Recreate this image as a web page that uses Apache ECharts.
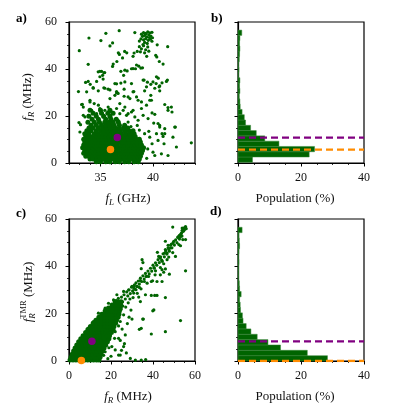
<!DOCTYPE html>
<html><head><meta charset="utf-8">
<script src="https://cdn.jsdelivr.net/npm/echarts@6/dist/echarts.min.js"></script>
<style>html,body{margin:0;padding:0;background:#fff}#c{width:395px;height:411px}</style>
</head><body><div id="c"></div>
<script>
// ---------- DATA ----------
// Panel a: dense core of (f_L [GHz], f_R [MHz]) points, listed per f_R row
const blobARows = [
  [0.5,[34.6,35.0,35.5,35.9,36.4,36.8,37.3,37.7,38.2,38.6]],
  [1.7,[34.0,34.3,34.7,35.0,35.3,35.7,36.0,36.3,36.7,37.0,37.3,37.7,38.0,38.3,38.7]],
  [2.9,[33.6,33.9,34.2,34.6,34.9,35.2,35.5,35.9,36.2,36.5,36.9,37.2,37.5,37.8,38.1,38.5,38.8]],
  [4.1,[33.4,33.8,34.1,34.4,34.7,35.0,35.4,35.7,36.0,36.3,36.7,37.0,37.3,37.6,38.0,38.3,38.6,38.9]],
  [5.3,[33.5,33.8,34.1,34.5,34.8,35.1,35.4,35.8,36.1,36.4,36.7,37.1,37.4,37.7,38.0,38.4,38.7,39.0]],
  [6.5,[33.3,33.6,33.9,34.3,34.6,34.9,35.2,35.6,35.9,36.2,36.5,36.9,37.2,37.5,37.8,38.2,38.5,38.8,39.1]],
  [7.7,[33.4,33.7,34.0,34.4,34.7,35.0,35.3,35.7,36.0,36.3,36.6,37.0,37.3,37.6,37.9,38.3,38.6,38.9]],
  [8.9,[33.5,33.8,34.1,34.5,34.8,35.1,35.4,35.8,36.1,36.4,36.8,37.1,37.4,37.7,38.1,38.4,38.8]],
  [10.1,[33.4,33.8,34.2,34.5,34.9,35.2,35.6,35.9,36.3,36.6,37.0,37.3,37.7,38.0,38.4,38.7]],
  [11.3,[33.6,34.0,34.3,34.7,35.0,35.4,35.8,36.1,36.5,36.8,37.2,37.6,37.9,38.3]],
  [12.5,[33.5,33.9,34.4,34.8,35.2,35.5,35.9,36.3,36.7,37.0,37.4,37.8,38.2]],
  [13.7,[33.7,34.1,34.6,35.0,35.3,35.7,36.1,36.5,36.9,37.3,37.7,38.1]],
  [14.9,[33.9,34.3,34.8,35.2,35.6,36.0,36.4,36.8,37.2,37.6]],
  [16.1,[34.1,34.6,35.1,35.5,35.9,36.3,36.8,37.3]],
  [17.3,[33.8,34.4,34.9,35.4,35.8,36.2,36.7]],
  [18.6,[34.2,34.8,35.5,36.0,36.5]],
  [19.9,[33.9,34.6,35.3,35.9]],
  [21.2,[34.3,35.1,35.7,36.2]],
  [22.5,[34.0,35.0,35.9]]
];
// Panel a: sparse points (f_L, f_R)
const sparseA = [
  [35.51,55.2],[36.78,56.3],[33.9,53.2],[35.04,52.1],[36.15,51.1],[35.9,49.8],[38.27,55.5],
  [38.9,54.8],[39.1,55.5],[39.3,55.2],[39.5,55.8],[39.7,55.4],[39.9,55.6],[39.0,53.9],[39.2,54.3],
  [39.4,53.6],[39.6,54.5],[39.8,54.0],[39.95,53.3],[38.85,52.8],[39.1,52.4],[39.3,52.9],[39.55,52.2],
  [39.75,52.7],[39.9,51.8],[39.2,51.3],[39.45,50.9],[39.05,50.4],[38.7,51.9],[39.65,53.4],[39.35,54.9],
  [38.7,49.5],[38.9,48.6],[39.1,49.9],[39.3,48.2],[39.5,49.4],[38.8,47.3],[39.2,46.9],[39.6,47.6],[38.5,47.5],
  [32.98,47.8],[36.7,46.9],[36.8,46.2],[37.3,47.5],[37.5,46.9],[38.2,46.8],[38.1,45.4],[40.4,50.3],[41.4,49.5],
  [40.26,45.8],[40.36,45.1],[40.6,43.2],[40.96,42.1],[39.4,45.4],[36.56,43.2],[37.1,44.7],[36.15,41.1],[33.83,42.0],
  [34.94,39.0],[35.1,39.0],[35.4,38.5],[35.2,37.3],[35.25,35.7],[36.94,39.0],[37.54,39.2],[37.95,40.1],[38.33,40.1],
  [38.65,41.2],[38.84,40.4],[39.0,40.5],[37.2,37.3],[39.15,35.3],[39.47,34.4],[39.79,33.5],[40.3,33.8],[40.5,36.1],
  [40.86,34.1],[40.64,32.8],[41.37,35.3],[41.28,34.7],[33.58,34.3],[33.83,34.7],[34.02,33.5],[34.31,31.8],[34.63,34.7],
  [34.79,30.7],[35.42,31.8],[35.73,31.4],[35.9,31.1],[36.53,33.7],[36.53,30.4],[36.94,34.0],[37.25,31.4],[38.17,30.4],
  [39.2,30.7],[40.17,31.8],[40.64,30.7],[32.9,30.4],[33.68,30.3],[34.0,26.7],[34.3,32.1],[34.78,38.8],[35.32,38.4],
  [34.94,36.7],[35.32,32.0],[35.9,27.4],[36.37,33.8],[36.53,29.8],[36.21,42.1],[37.32,39.5],[38.1,40.2],[38.43,41.7],
  [37.32,34.5],[37.95,33.8],[37.63,28.1],[38.43,28.1],[39.06,35.3],[39.38,32.4],[40.0,34.5],[40.33,36.7],[40.58,32.4],
  [39.85,26.7],[38.9,23.2],[39.06,20.3],[38.1,22.4],[37.32,23.8],[37.63,21.0],[36.84,25.3],
  [33.2,24.9],[33.36,20.3],[33.04,13.2],[32.95,17.2],[33.1,16.3],[33.27,25.0],[33.36,23.8],
  [39.38,24.6],[39.69,26.7],[39.79,28.8],[39.91,21.3],[40.17,20.7],[39.53,18.9],[41.12,24.9],[41.43,23.6],[41.81,21.7],
  [40.48,16.8],[40.64,15.3],[40.86,12.5],[41.05,8.2],[41.43,3.2],[41.12,12.5],[39.91,8.2],[40.0,4.6],[40.17,3.2],
  [40.8,3.9],[39.69,11.0],[42.07,15.3],[40.96,11.3],[41.9,11.0],[42.23,6.8],[42.13,15.3],[40.33,12.5],[40.48,9.6],
  [40.07,17.0],[40.64,16.0],[41.12,14.6],[41.43,22.4],[41.75,23.8],[43.65,8.6],[39.5,6.0],[39.4,2.0],[39.6,13.5],
  [34.0,26.0],[34.4,25.3],[34.8,24.6],[34.94,23.2],[34.16,22.4],[33.84,20.3],[33.52,19.6],[36.37,28.8],[36.68,29.6],
  [37.25,28.4],[37.8,27.4],[38.1,30.3],[38.58,26.7],[38.9,26.0],[35.42,22.4],[35.73,23.8],[36.05,21.7],[36.53,23.2],
  [36.84,21.0],[37.16,22.4],[37.48,20.3],[37.95,21.7],[38.27,19.6],[38.58,18.2],[35.26,19.6],[35.9,18.9],[36.68,18.2],
  [37.63,17.4],[34.63,21.0],[34.47,17.4],[38.5,16.0],[38.7,14.0],[39.2,12.5],[37.9,15.5]
];
// Panel c: dense core of (f_R, f_R^TMR) points, listed per f_R^TMR row
const blobCRows = [
  [0.4,[0.5,1.9,3.3,4.7,6.1,7.5,8.9,10.3,11.7,13.1,14.3]],
  [1.6,[1.0,2.4,3.8,5.2,6.6,8.0,9.4,10.8,12.2,13.6,14.8]],
  [2.9,[1.5,2.9,4.3,5.7,7.1,8.5,9.9,11.3,12.7,14.1,15.3]],
  [4.2,[2.2,3.6,5.0,6.4,7.8,9.2,10.6,12.0,13.4,14.8,16.0]],
  [5.5,[2.9,4.3,5.7,7.1,8.5,9.9,11.3,12.7,14.1,15.5,16.7]],
  [6.8,[3.7,5.1,6.5,7.9,9.3,10.7,12.1,13.5,14.9,16.3,17.5]],
  [8.1,[4.6,6.0,7.4,8.8,10.2,11.6,13.0,14.4,15.8,17.2,18.3]],
  [9.4,[5.6,7.0,8.4,9.8,11.2,12.6,14.0,15.4,16.8,18.1,19.0]],
  [10.7,[6.7,8.1,9.5,10.9,12.3,13.7,15.1,16.5,17.9,19.3]],
  [12.0,[7.9,9.3,10.7,12.1,13.5,14.9,16.3,17.7,19.1,20.2]],
  [13.3,[9.0,10.4,11.8,13.2,14.6,16.0,17.4,18.8,20.2,21.0]],
  [14.6,[10.2,11.6,13.0,14.4,15.8,17.2,18.6,20.0,21.4]],
  [15.9,[11.5,12.9,14.3,15.7,17.1,18.5,19.9,21.3,22.2]],
  [17.2,[12.8,14.2,15.6,17.0,18.4,19.8,21.2,22.6]],
  [18.5,[14.2,15.6,17.0,18.4,19.8,21.2,22.6,23.4]],
  [19.8,[15.6,17.0,18.4,19.8,21.2,22.6,23.8]],
  [21.1,[17.2,18.6,20.0,21.4,22.8,24.0]],
  [22.4,[18.8,20.2,21.6,23.0,24.4]],
  [23.7,[20.5,21.9,23.3,24.6]],
  [25.0,[22.0,23.4,24.8]]
];
// Panel c: sparse points (f_R, f_R^TMR)
const sparseC = [
  [22.5,25.5],[23.5,26.5],[24.2,24.0],[25.0,27.0],[25.5,25.0],[26.2,28.0],[26.8,26.2],[27.5,29.2],[28.0,27.5],
  [28.6,30.0],[29.2,28.5],[29.8,31.2],[30.3,29.6],[30.8,31.5],[31.5,30.3],[31.9,33.0],[32.4,31.5],[33.0,33.8],
  [33.5,32.5],[34.0,35.0],[34.6,33.6],[35.2,36.0],[35.8,34.6],[36.4,37.0],[37.0,35.8],[37.6,38.0],[38.2,36.8],
  [38.8,39.2],[39.4,38.0],[40.0,40.5],[40.6,39.2],[41.2,41.5],[41.8,40.5],[42.4,42.8],[43.0,41.6],[43.6,44.0],
  [44.2,42.6],[44.8,45.3],[45.4,44.0],[46.0,46.6],[46.6,45.2],[47.2,47.8],[47.8,46.4],[48.4,49.0],[49.0,47.8],
  [49.6,50.0],[50.2,49.0],[50.8,51.2],[51.4,50.0],[52.0,52.5],[52.6,51.5],[53.2,53.6],[53.8,52.8],[54.4,54.8],
  [55.0,55.6],[55.5,56.8],[54.6,56.0],[53.9,55.2],
  [49.4,56.6],[53.9,56.2],[55.2,56.5],[55.8,55.9],[54.7,55.1],[53.6,54.1],[52.6,53.1],[51.8,52.2],[53.0,52.4],
  [54.2,51.3],[55.5,51.3],[45.9,50.6],[47.2,48.9],[48.8,49.4],[49.9,50.6],[48.3,47.8],[47.5,47.1],[45.9,47.1],
  [46.7,45.6],[45.5,45.6],[52.3,49.2],[53.1,48.7],[42.1,45.9],[42.7,44.2],[43.5,43.5],[44.4,42.1],[45.1,41.1],
  [46.7,42.8],[47.5,43.9],[49.4,45.8],[50.7,44.2],[45.9,38.9],[47.8,36.7],[55.5,38.1],[34.8,42.8],[35.2,41.6],
  [34.4,39.0],[40.5,39.5],[41.2,38.1],[43.5,39.5],[44.3,38.6],[45.1,37.5],[41.0,36.4],[43.5,36.4],[37.9,35.7],
  [36.7,35.7],[34.0,34.0],[35.9,33.6],[37.2,32.9],[39.2,33.6],[39.8,33.9],[41.9,33.6],[44.3,33.6],[31.2,32.2],
  [32.4,31.5],[33.5,31.1],[31.0,30.7],[30.8,31.5],[31.9,30.1],[30.8,28.7],[34.3,30.5],[36.4,28.0],[39.2,27.7],
  [40.8,27.7],[41.9,27.7],[45.9,26.8],[34.0,25.1],[39.9,21.2],[45.9,12.4],[53.1,17.1],[39.2,11.4],[34.4,13.8],
  [33.5,13.4],[35.1,17.7],[30.0,17.7],[31.6,0.4],[34.4,0.4],[36.5,0.6],[29.2,1.1],[27.3,3.4],[23.6,2.5],[24.4,2.5],
  [35.4,17.7],[40.4,21.6],[26.0,19.5],[24.4,16.7],[23.6,14.8],[22.0,12.4],[23.6,9.6],[24.4,8.7],[21.7,9.6],
  [20.4,6.1],[19.0,5.6],[22.0,4.7],[17.2,3.9],[16.5,2.4],[26.0,6.1],[26.4,7.3],[18.5,1.0],[25.3,13.5],
  [27.8,15.8],[28.6,18.5],[29.5,21.5],[26.8,11.0],[25.0,4.5],[20.0,2.0],[11.6,16.7],[9.2,13.9],[14.0,20.2],
  [17.2,22.3],[18.8,24.4],[21.2,25.8],[22.8,28.0],[26.0,29.4],[28.4,30.1],[30.0,31.5],[27.0,22.8],[28.2,24.6],
  [29.0,26.2],[30.5,26.8],[32.5,28.6],[33.2,27.0],[24.8,21.8],[25.6,23.2],[23.5,19.8]
];
// Highlighted points: [x, y]
const purpleA = [36.6, 10.8];
const orangeA = [35.95, 5.7];
const purpleC = [10.9, 8.3];
const orangeC = [5.9, 0.2];
// Histogram b: f_R bin edges (MHz) and population (%)
const binEdgesB = [0.3,2.55,4.8,7.05,9.3,11.55,13.8,16.05,18.3,20.55,22.8,25.05,27.3,29.55,31.8,34.05,36.3,38.55,40.8,43.05,45.3,47.55,49.8,52.05,54.3,56.55];
const popB = [4.6,22.6,24.3,13.0,8.5,5.8,4.0,2.4,2.0,1.3,0.7,0.6,0.4,0.6,0.5,0.6,0.2,0.3,0.2,0.4,0.5,0.6,0.5,0.6,1.2];
// Histogram d: f_R^TMR bin edges (MHz) and population (%)
const binEdgesD = [0,2.26,4.52,6.78,9.04,11.3,13.56,15.82,18.08,20.34,22.6,24.86,27.12,29.38,31.64,33.9,36.16,38.42,40.68,42.94,45.2,47.46,49.72,51.98,54.24,56.5];
const popD = [28.4,22.0,13.5,9.5,6.1,4.1,2.6,1.6,1.4,0.8,0.7,0.5,1.0,0.5,0.4,0.2,0.2,0.2,0.3,0.2,0.3,0.5,0.4,0.3,1.3];
// Dashed reference levels (MHz)
const purpleLevelB = 10.8, orangeLevelB = 5.7;
const purpleLevelD = 8.3, orangeLevelD = 0;
const ticksFL = [35, 40];

// ---------- BUILD ----------
const FONT = '"Liberation Serif", "DejaVu Serif", serif';
const GREEN = '#006400', PURPLE = '#800080', ORANGE = '#ff8c00';
function flatten(rows){ const out=[]; rows.forEach(r=>r[1].forEach(x=>out.push([x,r[0]]))); return out; }
function histData(edges, pops){ return pops.map((p,i)=>[edges[i], edges[i+1], p]); }

const lineStyleAxis = {color:'#000', width:1.2};
function yAx(gi, labels){
  return {type:'value', gridIndex:gi, min:0, max:60, interval:20, position:'left',
    axisLine:{show:true, onZero:false, lineStyle:lineStyleAxis},
    axisTick:{show:true, length:3.5, lineStyle:{color:'#000', width:1}},
    minorTick:{show:true, splitNumber:4, length:2, lineStyle:{color:'#000', width:0.8}},
    splitLine:{show:false}, minorSplitLine:{show:false},
    axisLabel:{show:labels, fontFamily:FONT, fontSize:12, color:'#111', margin:12}};
}
function xAx(gi, max){
  return {type:'value', gridIndex:gi, min:0, max:max, interval:20, position:'bottom',
    axisLine:{show:true, onZero:false, lineStyle:lineStyleAxis},
    axisTick:{show:true, length:3.5, lineStyle:{color:'#000', width:1}},
    minorTick:{show:true, splitNumber:4, length:2, lineStyle:{color:'#000', width:0.8}},
    splitLine:{show:false}, minorSplitLine:{show:false},
    axisLabel:{fontFamily:FONT, fontSize:12, color:'#111', margin:9}};
}
const gridBase = {show:true, borderColor:'#000', borderWidth:1.2, backgroundColor:'transparent', containLabel:false};

function histSeries(xi, yi, edges, pops){
  return {type:'custom', xAxisIndex:xi, yAxisIndex:yi, data:histData(edges,pops), encode:{x:2, y:[0,1]},
    renderItem:function(params, api){
      const p0 = api.coord([0, api.value(0)]);
      const p1 = api.coord([api.value(2), api.value(1)]);
      return {type:'rect', shape:{x:p0[0], y:p1[1], width:p1[0]-p0[0], height:p0[1]-p1[1]},
        style:{fill:GREEN, stroke:'#3a863a', lineWidth:0.5}};
    }, z:2};
}
function dashLine(xi, yi, level, color){
  return {type:'line', xAxisIndex:xi, yAxisIndex:yi, data:[[0,level],[40,level]], symbol:'none',
    lineStyle:{color:color, width:2.4, type:[7,4]}, z:5, silent:true};
}
function dot(xi, yi, pt, color){
  return {type:'scatter', xAxisIndex:xi, yAxisIndex:yi, data:[pt], symbolSize:7.5,
    itemStyle:{color:color, opacity:1}, z:6};
}
function pts(xi, yi, data, size){
  return {type:'scatter', xAxisIndex:xi, yAxisIndex:yi, data:data, symbolSize:size,
    itemStyle:{color:GREEN, opacity:1}, z:3};
}

// text helpers (math-like axis titles built from text pieces)
const mctx = document.createElement('canvas').getContext('2d');
function tw(t, size, italic){ mctx.font=(italic?'italic ':'')+size+'px '+FONT; return mctx.measureText(t).width; }
function mathTitle(parts, cx, cy, rot){
  let x=0; const kids=[];
  parts.forEach(p=>{
    const w1 = tw(p.t, p.s, p.i);
    kids.push({x:x, y:p.dy||0, t:p.t, s:p.s, i:p.i});
    let adv = w1;
    if(p.sup){ kids.push({x:x, y:p.sup.dy, t:p.sup.t, s:p.sup.s, i:p.sup.i}); adv=Math.max(adv, tw(p.sup.t,p.sup.s,p.sup.i)); }
    x += adv;
  });
  const W = x;
  return {type:'group', x:cx, y:cy, rotation:rot||0, silent:true,
    children:kids.map(k=>({type:'text', x:k.x-W/2, y:k.y,
      style:{text:k.t, font:(k.i?'italic ':'')+k.s+'px '+FONT, fill:'#111', align:'left', verticalAlign:'middle', textAlign:'left', textVerticalAlign:'middle'}}))};
}
function panelLabel(t, x, y){
  return {type:'text', x:x, y:y, silent:true,
    style:{text:t, font:'bold 13px '+FONT, fill:'#000', align:'left', verticalAlign:'middle', textAlign:'left', textVerticalAlign:'middle'}};
}

const option = {
  animation:false,
  backgroundColor:'#fff',
  grid:[
    Object.assign({left:69, top:22, width:126, height:141}, gridBase),
    Object.assign({left:238, top:22, width:126, height:141}, gridBase),
    Object.assign({left:69, top:219, width:126, height:142}, gridBase),
    Object.assign({left:238, top:219, width:126, height:142}, gridBase)
  ],
  xAxis:[
    {type:'value', gridIndex:0, min:32, max:44, interval:1, position:'bottom', offset:0,
      axisLine:{show:true, onZero:false, lineStyle:lineStyleAxis},
      axisTick:{show:true, length:2, lineStyle:{color:'#000', width:0.8}},
      axisLabel:{show:false}, splitLine:{show:false}},
    {type:'value', gridIndex:0, min:32, max:44, position:'bottom', offset:0,
      axisLine:{show:false, onZero:false},
      axisTick:{show:true, length:3.5, customValues:ticksFL, lineStyle:{color:'#000', width:1}},
      axisLabel:{show:true, customValues:ticksFL, fontFamily:FONT, fontSize:12, color:'#111', margin:9},
      splitLine:{show:false}},
    xAx(1, 40),
    xAx(2, 60),
    xAx(3, 40)
  ],
  yAxis:[ yAx(0,true), yAx(1,false), yAx(2,true), yAx(3,false) ],
  series:[
    pts(0,0,flatten(blobARows),5), pts(0,0,sparseA,3.2),
    dot(0,0,purpleA,PURPLE), dot(0,0,orangeA,ORANGE),
    histSeries(2,1,binEdgesB,popB),
    dashLine(2,1,purpleLevelB,PURPLE), dashLine(2,1,orangeLevelB,ORANGE),
    pts(3,2,flatten(blobCRows),5), pts(3,2,sparseC,3.2),
    dot(3,2,purpleC,PURPLE), dot(3,2,orangeC,ORANGE),
    histSeries(4,3,binEdgesD,popD),
    dashLine(4,3,purpleLevelD,PURPLE), dashLine(4,3,orangeLevelD,ORANGE)
  ],
  graphic:[
    panelLabel('a)', 16, 19), panelLabel('b)', 211, 19),
    panelLabel('c)', 16, 214), panelLabel('d)', 210, 212),
    mathTitle([{t:'f',s:13,i:true},{t:'L',s:9,i:true,dy:3.5},{t:' (GHz)',s:13}], 128, 199, 0),
    mathTitle([{t:'Population (%)',s:13}], 295, 199, 0),
    mathTitle([{t:'f',s:13,i:true},{t:'R',s:9,i:true,dy:3.5},{t:' (MHz)',s:13}], 128, 397, 0),
    mathTitle([{t:'Population (%)',s:13}], 295, 397, 0),
    mathTitle([{t:'f',s:13,i:true},{t:'R',s:9,i:true,dy:3.5},{t:' (MHz)',s:13}], 28, 97, Math.PI/2),
    mathTitle([{t:'f',s:13,i:true},{t:'R',s:9,i:true,dy:3.5,sup:{t:'TMR',s:8.5,i:false,dy:-5.5}},{t:' (MHz)',s:13}], 29, 292, Math.PI/2)
  ]
};
const chart = echarts.init(document.getElementById('c'), null, {renderer:'canvas'});
chart.setOption(option);
</script></body></html>
